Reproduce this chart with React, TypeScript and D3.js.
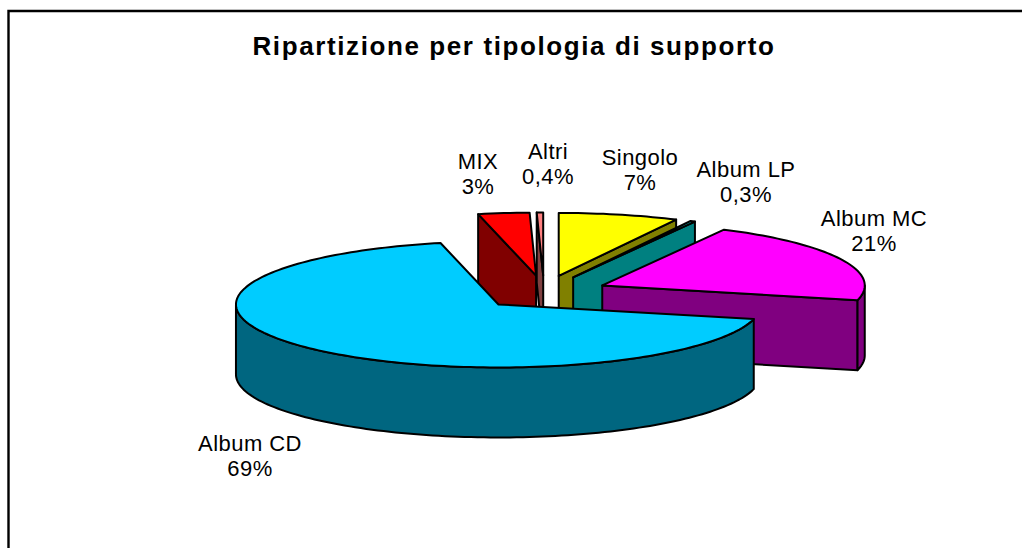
import React from "react";
import * as d3 from "d3";

const categories = ["Singolo", "Album LP", "Album MC", "Album CD", "MIX", "Altri"];
const shares = [7.5, 0.3, 21.4, 68.8, 3.2, 0.4];
const shareLabels = ["7%", "0,3%", "21%", "69%", "3%", "0,4%"];
const topColors = ["#FFFF00", "#00FFFF", "#FF00FF", "#00CCFF", "#FF0000", "#FF8080"];
const sideColors = ["#808000", "#008080", "#800080", "#006680", "#800000", "#804040"];
const labelAnchors: [number, number][] = [
  [640, 165], [746, 177], [874, 226], [250, 451], [478, 169], [548, 159],
];
const drawOrder = [4, 5, 0, 1, 2, 3];
const titleText = "Ripartizione per tipologia di supporto";

const CX = 544, CY = 292.5, RX = 262.5, RY = 63, DEPTH = 70;
const EX = 64, EY = 17;
const FONT = "'Liberation Sans', Arial, sans-serif";

const slices = d3.pie<number>().sort(null)(shares);
const line = d3.line<[number, number]>();

function Slice({ i }: { i: number }) {
  const { startAngle: a, endAngle: b } = slices[i];
  const mid = (a + b) / 2;
  const ax = CX + EX * Math.sin(mid);
  const ay = CY - EY * Math.cos(mid);
  const pt = (t: number, dz = 0): [number, number] => [
    ax + RX * Math.sin(t),
    ay - RY * Math.cos(t) + dz,
  ];
  const rimPts = (from: number, to: number, dz = 0): [number, number][] => {
    const n = Math.max(2, Math.ceil(Math.abs(to - from) * 40));
    return d3.range(n + 1).map((k) => pt(from + ((to - from) * k) / n, dz));
  };
  const apex: [number, number] = [ax, ay];
  const apexLow: [number, number] = [ax, ay + DEPTH];
  const faces: [number, number][][] = [];
  if (Math.sin(a) < -1e-6) faces.push([apex, pt(a), pt(a, DEPTH), apexLow]);
  if (Math.sin(b) > 1e-6) faces.push([apex, pt(b), pt(b, DEPTH), apexLow]);
  const visFrom = Math.max(a, Math.PI / 2);
  const visTo = Math.min(b, (3 * Math.PI) / 2);
  const common = { stroke: "#000", strokeWidth: 2, strokeLinejoin: "round" as const };
  return (
    <g>
      {faces.map((f, k) => (
        <path key={k} d={line(f)! + "Z"} fill={sideColors[i]} {...common} />
      ))}
      {visTo > visFrom && (
        <path
          d={line([...rimPts(visFrom, visTo), ...rimPts(visTo, visFrom, DEPTH)])! + "Z"}
          fill={sideColors[i]}
          {...common}
        />
      )}
      <path d={line([apex, ...rimPts(a, b)])! + "Z"} fill={topColors[i]} {...common} />
    </g>
  );
}

export default function App() {
  return (
    <svg
      width={1022}
      height={548}
      style={{ position: "absolute", left: 0, top: 0, background: "#fff" }}
    >
      <path d="M8.5,548V11H1022" fill="none" stroke="#000" strokeWidth={2.4} />
      <text x={514} y={55} textAnchor="middle" fontFamily={FONT} fontWeight="bold" fontSize={26} letterSpacing={1.6}>
        {titleText}
      </text>
      {drawOrder.map((i) => (
        <Slice key={i} i={i} />
      ))}
      {categories.map((c, i) => (
        <text key={c} x={labelAnchors[i][0]} y={labelAnchors[i][1]} textAnchor="middle" fontFamily={FONT} fontSize={22} letterSpacing={0.45} fill="#000">
          <tspan x={labelAnchors[i][0]}>{c}</tspan>
          <tspan x={labelAnchors[i][0]} dy={25}>{shareLabels[i]}</tspan>
        </text>
      ))}
    </svg>
  );
}
